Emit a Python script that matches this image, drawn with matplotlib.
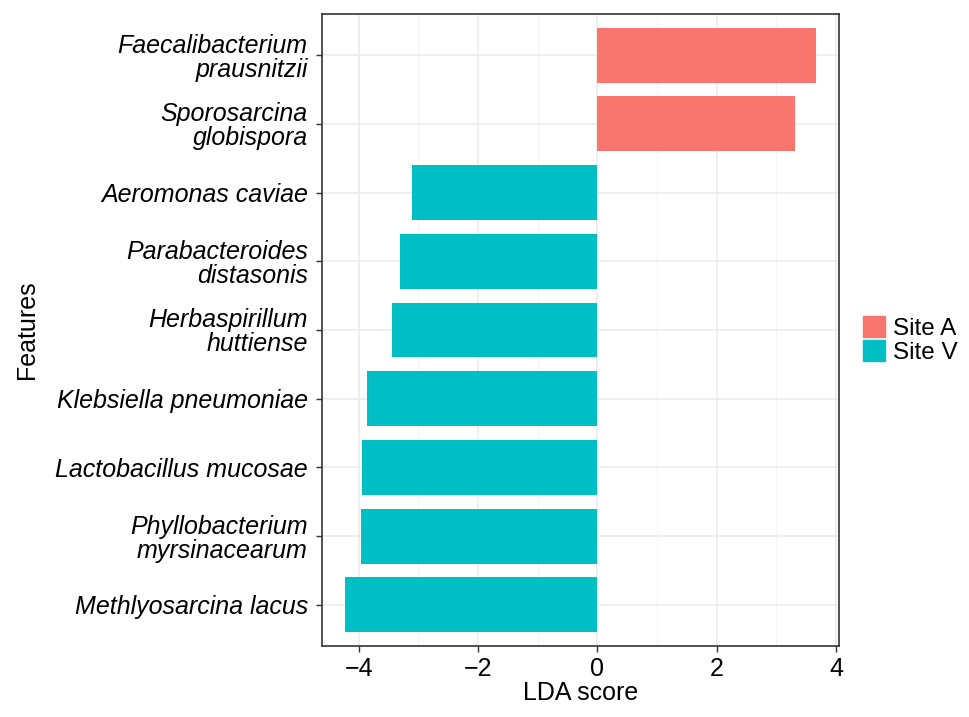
import matplotlib
matplotlib.use("Agg")
import matplotlib.pyplot as plt
from matplotlib.patches import Patch
from matplotlib.ticker import MultipleLocator
import numpy as np

# features, top to bottom as in the figure
features = ["Faecalibacterium\nprausnitzii", "Sporosarcina\nglobispora", "Aeromonas caviae",
            "Parabacteroides\ndistasonis", "Herbaspirillum\nhuttiense", "Klebsiella pneumoniae",
            "Lactobacillus mucosae", "Phyllobacterium\nmyrsinacearum", "Methlyosarcina lacus"]
lda = [3.66, 3.31, -3.11, -3.31, -3.45, -3.86, -3.94, -3.97, -4.23]
groups = ["Site A", "Site A", "Site V", "Site V", "Site V", "Site V", "Site V", "Site V", "Site V"]

cores = {"Site A": "#F8766D", "Site V": "#00BFC4"}

plt.rcParams["font.family"] = ["Liberation Sans", "DejaVu Sans"]
fs = 18

fig = plt.figure(figsize=(9.69, 7.17), dpi=100)
ax = fig.add_axes([0.332, 0.099, 0.534, 0.8815])

pos = np.arange(len(features))[::-1]
ax.barh(pos, lda, height=0.8, color=[cores[g] for g in groups], zorder=3)

ax.set_xlim(-4.62, 4.05)
ax.set_ylim(-0.6, len(features) - 0.4)
ax.xaxis.set_major_locator(MultipleLocator(2))
ax.xaxis.set_minor_locator(MultipleLocator(1))
ax.set_yticks(pos)
ax.set_yticklabels(features, fontsize=fs, style="italic", linespacing=1.0)
ax.set_xticks([-4, -2, 0, 2, 4])
ax.set_xticklabels(["\u22124", "\u22122", "0", "2", "4"], fontsize=fs)

# grid like theme_bw
ax.grid(which="major", color="#ebebeb", linewidth=1.1, zorder=0)
ax.grid(which="minor", axis="x", color="#f2f2f2", linewidth=0.6, zorder=0)
ax.tick_params(axis="both", which="major", length=4, width=1, color="#333333", pad=4)
ax.tick_params(axis="y", which="major", pad=6)
ax.tick_params(axis="x", which="minor", length=0)
for s in ax.spines.values():
    s.set_color("#333333")
    s.set_linewidth(1.2)

ax.set_xlabel("LDA score", fontsize=fs, labelpad=0)
ax.set_ylabel("Features", fontsize=fs, labelpad=12)

handles = [Patch(color=cores["Site A"], label="Site A"), Patch(color=cores["Site V"], label="Site V")]
ax.legend(handles=handles, loc="center left", bbox_to_anchor=(1.046, 0.484), frameon=False,
          fontsize=17.5, handlelength=0.9, handleheight=0.9, labelspacing=0.02,
          handletextpad=0.33, borderaxespad=0, borderpad=0)

fig.savefig("out.png", dpi=100)
